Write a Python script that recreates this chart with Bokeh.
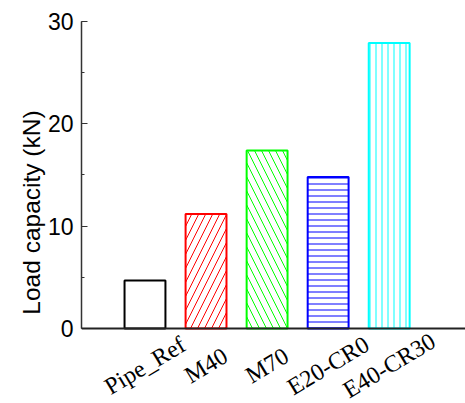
import numpy as np
from bokeh.plotting import figure
from bokeh.models import ColumnDataSource, Range1d, SingleIntervalTicker, Span, Title
from bokeh.core.properties import value
from bokeh.embed import file_html
from bokeh.resources import INLINE

# ---- data ----
categories = ["Pipe_Ref", "M40", "M70", "E20-CR0", "E40-CR30"]
load_capacity = [4.7, 11.2, 17.4, 14.8, 27.9]

# ---- styles ----
bar_colors = ["#000000", "#FF0000", "#00FF00", "#0000FF", "#00FFFF"]
hatch_patterns = [" ", "/", "\\", "-", "|"]
hatch_scales = [14, 14, 14, 6, 6]

xpos = np.arange(1, len(categories) + 1)
src = ColumnDataSource(dict(
    x=xpos, top=load_capacity, cat=categories, color=bar_colors,
    hatch=hatch_patterns, hscale=hatch_scales, base=[0] * len(categories),
))

p = figure(width=465, height=403, output_backend="svg", toolbar_location=None,
           x_range=Range1d(-0.04, 6.25), y_range=Range1d(-7.33, 30),
           min_border_left=81, min_border_right=0, min_border_top=21,
           min_border_bottom=0)
p.outline_line_color = None
p.xgrid.visible = False
p.ygrid.visible = False
p.xaxis.visible = False
p.background_fill_color = "white"

p.vbar(x="x", top="top", bottom="base", width=0.67, source=src,
       fill_color="white", line_color="color", line_width=2,
       hatch_pattern="hatch", hatch_color="color", hatch_scale="hscale",
       hatch_weight=1)

# baseline (x axis line)
p.add_layout(Span(location=0, dimension="width", line_color="#222222",
                  line_width=2))

# y axis
ya = p.yaxis[0]
ya.bounds = (0, 30)
ya.ticker = SingleIntervalTicker(interval=10, num_minor_ticks=2)
ya.major_label_text_font = "Liberation Sans"
ya.major_label_text_font_size = "23px"
ya.major_label_text_color = "black"
ya.major_label_standoff = 8
ya.major_tick_in = 6
ya.major_tick_out = 0
ya.minor_tick_in = 3
ya.minor_tick_out = 0
ya.axis_line_width = 1.5
ya.axis_line_color = "#333333"
ya.major_tick_line_color = "#333333"
ya.minor_tick_line_color = "#333333"

# y axis title
ytitle = Title(text="Load capacity (kN)", align="center", offset=7,
               text_font="Liberation Sans", text_font_size="24.5px",
               text_font_style="normal", text_color="black", standoff=0)
p.add_layout(ytitle, "left")

# rotated category labels below the baseline
p.text(x="x", y="base", text="cat", source=src, y_offset=37,
       angle=31, angle_units="deg", text_align="center",
       text_baseline="middle", text_font=value("Liberation Serif"),
       text_font_size="24px", text_color="black")

open("out.html", "w").write(file_html(p, INLINE))
